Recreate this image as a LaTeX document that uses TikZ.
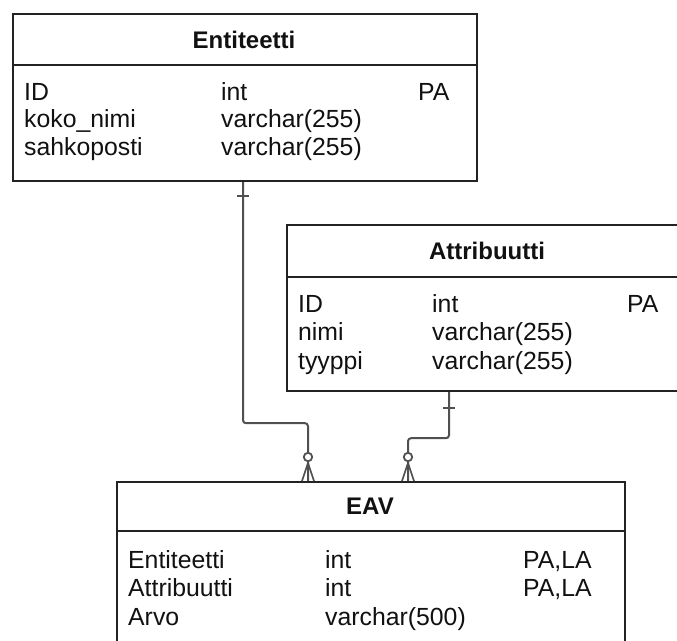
\documentclass[tikz,border=0pt]{standalone}
\usepackage{fontspec}
\setmainfont{Liberation Sans}
\usetikzlibrary{calc}
\definecolor{boxc}{HTML}{222222}
\definecolor{linkc}{HTML}{505050}
\definecolor{txt}{HTML}{111111}
\begin{document}
\begin{tikzpicture}[x=1pt,y=-1pt,
  tbl/.style={draw=boxc, line width=2.2pt, inner sep=0pt, anchor=north west, fill=white},
  sep/.style={draw=boxc, line width=2.2pt},
  ttl/.style={inner sep=0pt, font=\bfseries\fontsize{24}{28}\selectfont, text=txt},
  cell/.style={anchor=base west, inner sep=0pt, font=\fontsize{24.8}{28}\selectfont, text=txt},
  link/.style={draw=linkc, line width=2pt, rounded corners=3pt},
  tickbar/.style={draw=linkc, line width=2pt},
  foot/.style={draw=linkc, line width=1.6pt},
  ring/.style={draw=linkc, line width=1.8pt, fill=white}]
\useasboundingbox (0,0) rectangle (677,640);
\clip (0,0) rectangle (677,640);

% ---- table boxes ----
\node[tbl, minimum width=464pt, minimum height=167pt] (ent) at (12,13) {};
\node[tbl, minimum width=402pt, minimum height=166pt] (attr) at (286,224) {};
\node[tbl, minimum width=508pt, minimum height=200pt] (eav) at (116,481) {};

% header separators
\draw[sep] ($(ent.north west)+(0,52)$) -- ($(ent.north east)+(0,52)$);
\draw[sep] ($(attr.north west)+(0,53)$) -- ($(attr.north east)+(0,53)$);
\draw[sep] ($(eav.north west)+(0,50)$) -- ($(eav.north east)+(0,50)$);

% ---- titles ----
\node[ttl] (entT) at (244,40) {Entiteetti};
\node[ttl] (attrT) at (487,251) {Attribuutti};
\node[ttl] (eavT) at (370,506) {EAV};

% ---- Entiteetti rows ----
\node[cell] (e1n) at (24,100) {ID};
\node[cell] (e1t) at (221,100) {int};
\node[cell] (e1k) at (418,100) {PA};
\node[cell] (e2n) at (24,127.5) {koko\_nimi};
\node[cell] (e2t) at (221,127.5) {varchar(255)};
\node[cell] (e3n) at (24,155) {sahkoposti};
\node[cell] (e3t) at (221,155) {varchar(255)};

% ---- Attribuutti rows ----
\node[cell] (a1n) at (298,312) {ID};
\node[cell] (a1t) at (432,312) {int};
\node[cell] (a1k) at (627,312) {PA};
\node[cell] (a2n) at (298,340.5) {nimi};
\node[cell] (a2t) at (432,340.5) {varchar(255)};
\node[cell] (a3n) at (298,369) {tyyppi};
\node[cell] (a3t) at (432,369) {varchar(255)};

% ---- EAV rows ----
\node[cell] (v1n) at (128,568) {Entiteetti};
\node[cell] (v1t) at (325,568) {int};
\node[cell] (v1k) at (523,568) {PA,LA};
\node[cell] (v2n) at (128,596.5) {Attribuutti};
\node[cell] (v2t) at (325,596.5) {int};
\node[cell] (v2k) at (523,596.5) {PA,LA};
\node[cell] (v3n) at (128,625) {Arvo};
\node[cell] (v3t) at (325,625) {varchar(500)};

% ---- relationship end points ----
\path (ent.south west) ++(231,0) coordinate (entFK);
\path (attr.south west) ++(163,0) coordinate (attrFK);
\path (eav.north west) ++(192,0) coordinate (eavE);
\path (eav.north west) ++(292,0) coordinate (eavA);

% ---- connectors ----
\draw[link] (entFK) -- ++(0,241) -| (eavE);
\draw[link] (attrFK) -- ++(0,46) -| (eavA);

% one-side bars
\draw[tickbar] ($(entFK)+(-6,14)$) -- ($(entFK)+(6,14)$);
\draw[tickbar] ($(attrFK)+(-6,16)$) -- ($(attrFK)+(6,16)$);

% many-side crow's feet with optional rings
\foreach \p in {eavE,eavA}{
  \draw[foot] ($(\p)+(0,-18)$) -- ($(\p)+(-6,0)$);
  \draw[foot] ($(\p)+(0,-18)$) -- (\p);
  \draw[foot] ($(\p)+(0,-18)$) -- ($(\p)+(6,0)$);
  \draw[ring] ($(\p)+(0,-24)$) circle[radius=4.2pt];
}
\end{tikzpicture}
\end{document}
